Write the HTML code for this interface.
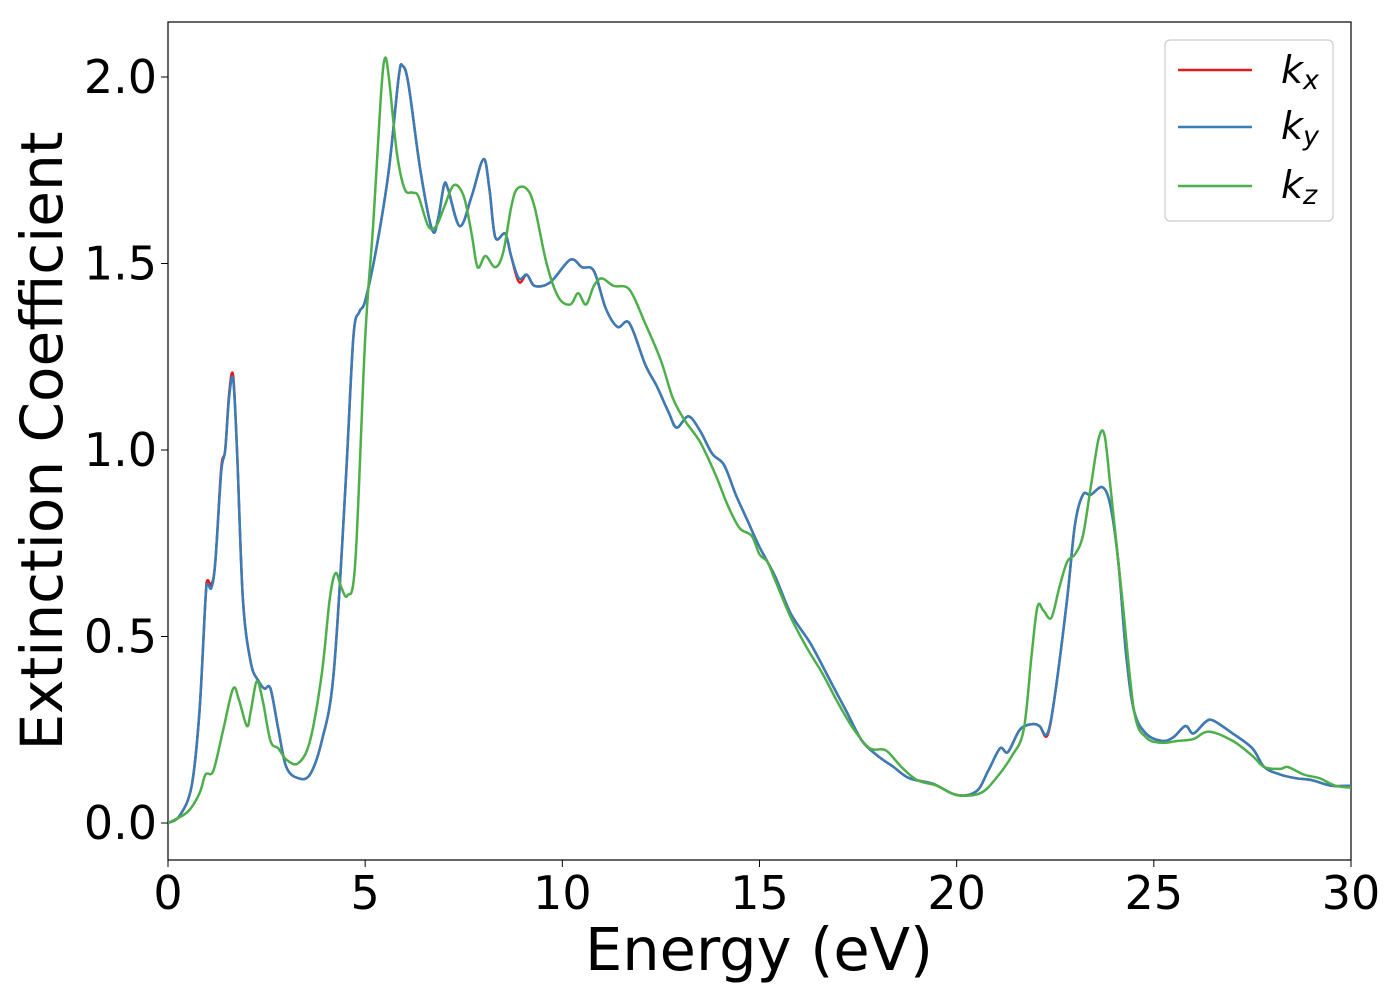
<!DOCTYPE html>
<html><head><meta charset="utf-8"><style>
body{margin:0;background:#fff;}
svg text{font-family:"DejaVu Sans","Liberation Sans",sans-serif;fill:#000;}
</style></head><body>
<svg id="chart" width="1400" height="1000" xmlns="http://www.w3.org/2000/svg">
<rect x="168" y="22" width="1183" height="838" fill="#fff" stroke="#000" stroke-width="1.2"/>
<g id="ticks"></g>
<g id="series" clip-path="url(#clip)"></g>
<defs><clipPath id="clip"><rect x="168" y="22" width="1183" height="838"/></clipPath></defs>
<text x="759" y="970" font-size="59" text-anchor="middle">Energy (eV)</text>
<text transform="translate(62,441) rotate(-90)" font-size="58" text-anchor="middle">Extinction Coefficient</text>
<g>
<rect x="1165" y="40" width="168" height="181" rx="5" fill="#fff" stroke="#ccc" stroke-width="1.2"/>
<g><line x1="1178" y1="70" x2="1252" y2="70" stroke="#e41a1c" stroke-width="2.5"/><text x="1281" y="83" font-size="38" font-style="italic">k<tspan font-size="27" dy="6">x</tspan></text></g>
<g><line x1="1178" y1="127" x2="1252" y2="127" stroke="#377eb8" stroke-width="2.5"/><text x="1281" y="139" font-size="38" font-style="italic">k<tspan font-size="27" dy="6">y</tspan></text></g>
<g><line x1="1178" y1="186" x2="1252" y2="186" stroke="#4daf4a" stroke-width="2.5"/><text x="1281" y="198" font-size="38" font-style="italic">k<tspan font-size="27" dy="6">z</tspan></text></g>
</g>
</svg>
<script>
const xTicks=[0,5,10,15,20,25,30];
const yTicks=[0.0,0.5,1.0,1.5,2.0];
const yTickLabels=["0.0","0.5","1.0","1.5","2.0"];
const xyE=[0,0.3,0.6,0.8,0.95,1.0,1.1,1.2,1.35,1.45,1.55,1.65,1.75,1.9,2.1,2.3,2.45,2.6,2.8,3.0,3.3,3.6,3.9,4.2,4.5,4.7,4.85,5.0,5.3,5.6,5.85,5.95,6.1,6.4,6.7,6.85,7.0,7.1,7.4,7.7,8.0,8.15,8.3,8.55,8.7,8.9,9.1,9.3,9.7,10.2,10.5,10.8,11.1,11.4,11.7,12.1,12.4,12.7,12.9,13.2,13.5,13.8,14.1,14.4,14.7,15.0,15.4,15.8,16.3,16.8,17.2,17.6,18.0,18.4,18.8,19.4,20.0,20.5,20.8,21.1,21.3,21.6,21.9,22.1,22.3,22.5,22.8,23.0,23.2,23.4,23.7,23.9,24.1,24.3,24.5,24.8,25.2,25.5,25.8,26.0,26.3,26.5,27.0,27.5,27.8,28.2,28.6,29.0,29.5,30];
const kx=[0,0.02,0.1,0.3,0.6,0.65,0.64,0.7,0.95,1.0,1.15,1.2,1.0,0.6,0.43,0.38,0.36,0.36,0.25,0.15,0.12,0.13,0.22,0.4,0.9,1.3,1.37,1.4,1.55,1.75,2.0,2.03,1.98,1.75,1.59,1.62,1.71,1.7,1.6,1.68,1.78,1.7,1.57,1.58,1.52,1.45,1.47,1.44,1.45,1.51,1.49,1.48,1.38,1.33,1.34,1.23,1.17,1.1,1.06,1.09,1.05,0.99,0.96,0.88,0.81,0.74,0.66,0.56,0.48,0.38,0.3,0.22,0.18,0.15,0.12,0.105,0.075,0.085,0.14,0.2,0.19,0.25,0.265,0.26,0.235,0.35,0.6,0.8,0.88,0.88,0.9,0.85,0.7,0.45,0.3,0.24,0.22,0.23,0.26,0.24,0.27,0.275,0.24,0.2,0.15,0.13,0.12,0.115,0.1,0.1];
const ky=[0,0.02,0.1,0.3,0.6,0.64,0.63,0.7,0.94,1.0,1.14,1.19,1.0,0.6,0.43,0.38,0.36,0.36,0.25,0.15,0.12,0.13,0.22,0.4,0.9,1.3,1.37,1.4,1.55,1.75,2.0,2.03,1.98,1.75,1.59,1.62,1.71,1.7,1.6,1.68,1.78,1.7,1.57,1.58,1.52,1.46,1.47,1.44,1.45,1.51,1.49,1.48,1.38,1.33,1.34,1.23,1.17,1.1,1.06,1.09,1.05,0.99,0.96,0.88,0.81,0.74,0.66,0.56,0.48,0.38,0.3,0.22,0.18,0.15,0.12,0.105,0.075,0.085,0.14,0.2,0.19,0.25,0.265,0.26,0.24,0.35,0.6,0.8,0.88,0.88,0.9,0.85,0.7,0.45,0.3,0.24,0.22,0.23,0.26,0.24,0.27,0.275,0.24,0.2,0.15,0.13,0.12,0.115,0.1,0.1];
const zE=[0,0.5,0.8,0.95,1.15,1.4,1.65,1.8,2.0,2.1,2.25,2.4,2.6,2.8,3.0,3.3,3.6,3.9,4.1,4.25,4.4,4.55,4.75,5.0,5.2,5.4,5.5,5.6,5.8,6.0,6.2,6.35,6.6,6.8,7.0,7.25,7.5,7.7,7.85,8.05,8.3,8.5,8.7,8.85,9.1,9.3,9.6,9.9,10.2,10.4,10.6,10.8,11.0,11.3,11.7,12.1,12.5,12.8,13.1,13.5,13.9,14.2,14.5,14.8,15.0,15.2,15.4,15.8,16.2,16.6,17.0,17.4,17.8,18.2,18.6,19.0,19.5,20.0,20.6,21.0,21.4,21.7,21.9,22.05,22.2,22.4,22.6,22.8,23.0,23.2,23.4,23.6,23.75,23.9,24.2,24.5,24.8,25.2,25.6,26.0,26.4,27.0,27.5,27.8,28.2,28.4,28.8,29.2,29.6,30];
const kz=[0,0.03,0.08,0.13,0.14,0.25,0.36,0.33,0.26,0.3,0.38,0.33,0.22,0.2,0.17,0.16,0.22,0.4,0.6,0.67,0.63,0.61,0.7,1.3,1.6,1.95,2.05,2.0,1.8,1.7,1.69,1.68,1.6,1.6,1.65,1.71,1.68,1.58,1.49,1.52,1.49,1.53,1.65,1.7,1.7,1.65,1.5,1.41,1.39,1.42,1.39,1.44,1.46,1.44,1.43,1.34,1.24,1.14,1.08,1.02,0.93,0.85,0.79,0.77,0.72,0.7,0.65,0.55,0.47,0.4,0.32,0.25,0.2,0.195,0.15,0.115,0.1,0.075,0.08,0.12,0.18,0.25,0.45,0.58,0.57,0.55,0.63,0.7,0.72,0.77,0.9,1.03,1.04,0.9,0.6,0.3,0.23,0.215,0.22,0.225,0.245,0.22,0.18,0.15,0.145,0.15,0.13,0.12,0.1,0.095];

const X0=168,X1=1351,Y0=823,Y2=77;
const xs=v=>X0+(v/30)*(X1-X0);
const ys=v=>Y0-(v/2)*(Y0-Y2);
const NS="http://www.w3.org/2000/svg";
const ticks=document.getElementById('ticks');
xTicks.forEach(t=>{
  const l=document.createElementNS(NS,'line');
  l.setAttribute('x1',xs(t));l.setAttribute('x2',xs(t));l.setAttribute('y1',860);l.setAttribute('y2',867);l.setAttribute('stroke','#000');
  
  
  ticks.appendChild(l);
  const tx=document.createElementNS(NS,'text');
  tx.setAttribute('x',xs(t));tx.setAttribute('y',909);tx.setAttribute('font-size','46');tx.setAttribute('text-anchor','middle');
  tx.textContent=String(t);
  
  
  ticks.appendChild(tx);
});
yTicks.forEach((t,i)=>{
  const l=document.createElementNS(NS,'line');
  l.setAttribute('x1',161);l.setAttribute('x2',168);l.setAttribute('y1',ys(t));l.setAttribute('y2',ys(t));l.setAttribute('stroke','#000');
  
  
  ticks.appendChild(l);
  const tx=document.createElementNS(NS,'text');
  tx.setAttribute('x',157);tx.setAttribute('y',ys(t)+16);tx.setAttribute('font-size','46');tx.setAttribute('text-anchor','end');
  tx.textContent=yTickLabels[i];
  
  
  ticks.appendChild(tx);
});
const series=document.getElementById('series');
function draw(E,V,color,name){
  const P=E.map((e,i)=>[xs(e),ys(V[i])]);
  let d='M'+P[0][0].toFixed(1)+','+P[0][1].toFixed(1);
  for(let i=0;i<P.length-1;i++){
    const p0=P[Math.max(0,i-1)],p1=P[i],p2=P[i+1],p3=P[Math.min(P.length-1,i+2)];
    const c1=[p1[0]+(p2[0]-p0[0])/6,p1[1]+(p2[1]-p0[1])/6];
    const c2=[p2[0]-(p3[0]-p1[0])/6,p2[1]-(p3[1]-p1[1])/6];
    d+=' C'+c1[0].toFixed(1)+','+c1[1].toFixed(1)+' '+c2[0].toFixed(1)+','+c2[1].toFixed(1)+' '+p2[0].toFixed(1)+','+p2[1].toFixed(1);
  }
  const p=document.createElementNS(NS,'path');
  p.setAttribute('d',d);
  p.setAttribute('fill','none');p.setAttribute('stroke',color);p.setAttribute('stroke-width','2.5');p.setAttribute('stroke-linejoin','round');
  
  
  series.appendChild(p);
}
draw(xyE,kx,'#e41a1c','kx-line');
draw(xyE,ky,'#377eb8','ky-line');
draw(zE,kz,'#4daf4a','kz-line');
</script>
</body></html>
